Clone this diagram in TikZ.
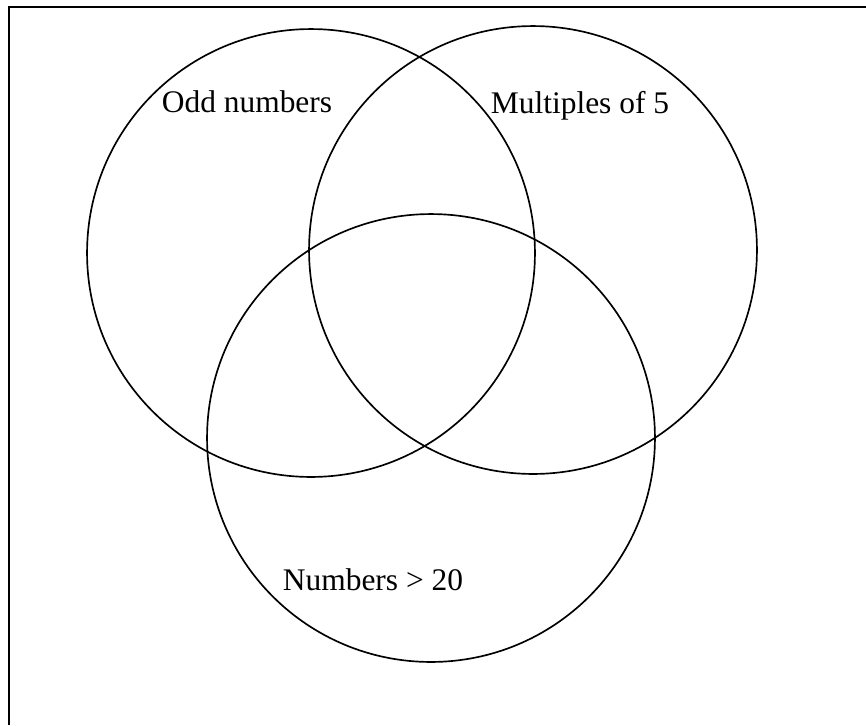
\documentclass[tikz,border=0pt]{standalone}
\usepackage{fontspec}
\setmainfont{Liberation Serif}
\begin{document}
\begin{tikzpicture}[
        x=0.02cm, y=-0.02cm,
        set/.style={circle, draw=black, line width=0.95pt, minimum size=8.96cm, inner sep=0pt},
        set_label/.style={anchor=base, inner sep=0pt, font=\fontsize{17.9}{20}\selectfont},
        frame/.style={draw=black, line width=1.2pt}
    ]
    \useasboundingbox (0,0) rectangle (866,725);

    % open frame (top and left edge only)
    \coordinate (frame_bl) at (9,725);
    \coordinate (frame_tl) at (9,7);
    \coordinate (frame_tr) at (866,7);
    \draw[frame] (frame_bl) -- (frame_tl) -- (frame_tr);

    % the three sets
    \node[set] (odd) at (311,253) {};
    \node[set] (mult5) at (533,250) {};
    \node[set] (over20) at (431,438) {};

    \node[set_label] (odd_label) at (247,112) {Odd numbers};
    \node[set_label] (mult5_label) at (580,113) {Multiples of 5};
    \node[set_label] (over20_label) at (373,590) {Numbers > 20};
\end{tikzpicture}
\end{document}
